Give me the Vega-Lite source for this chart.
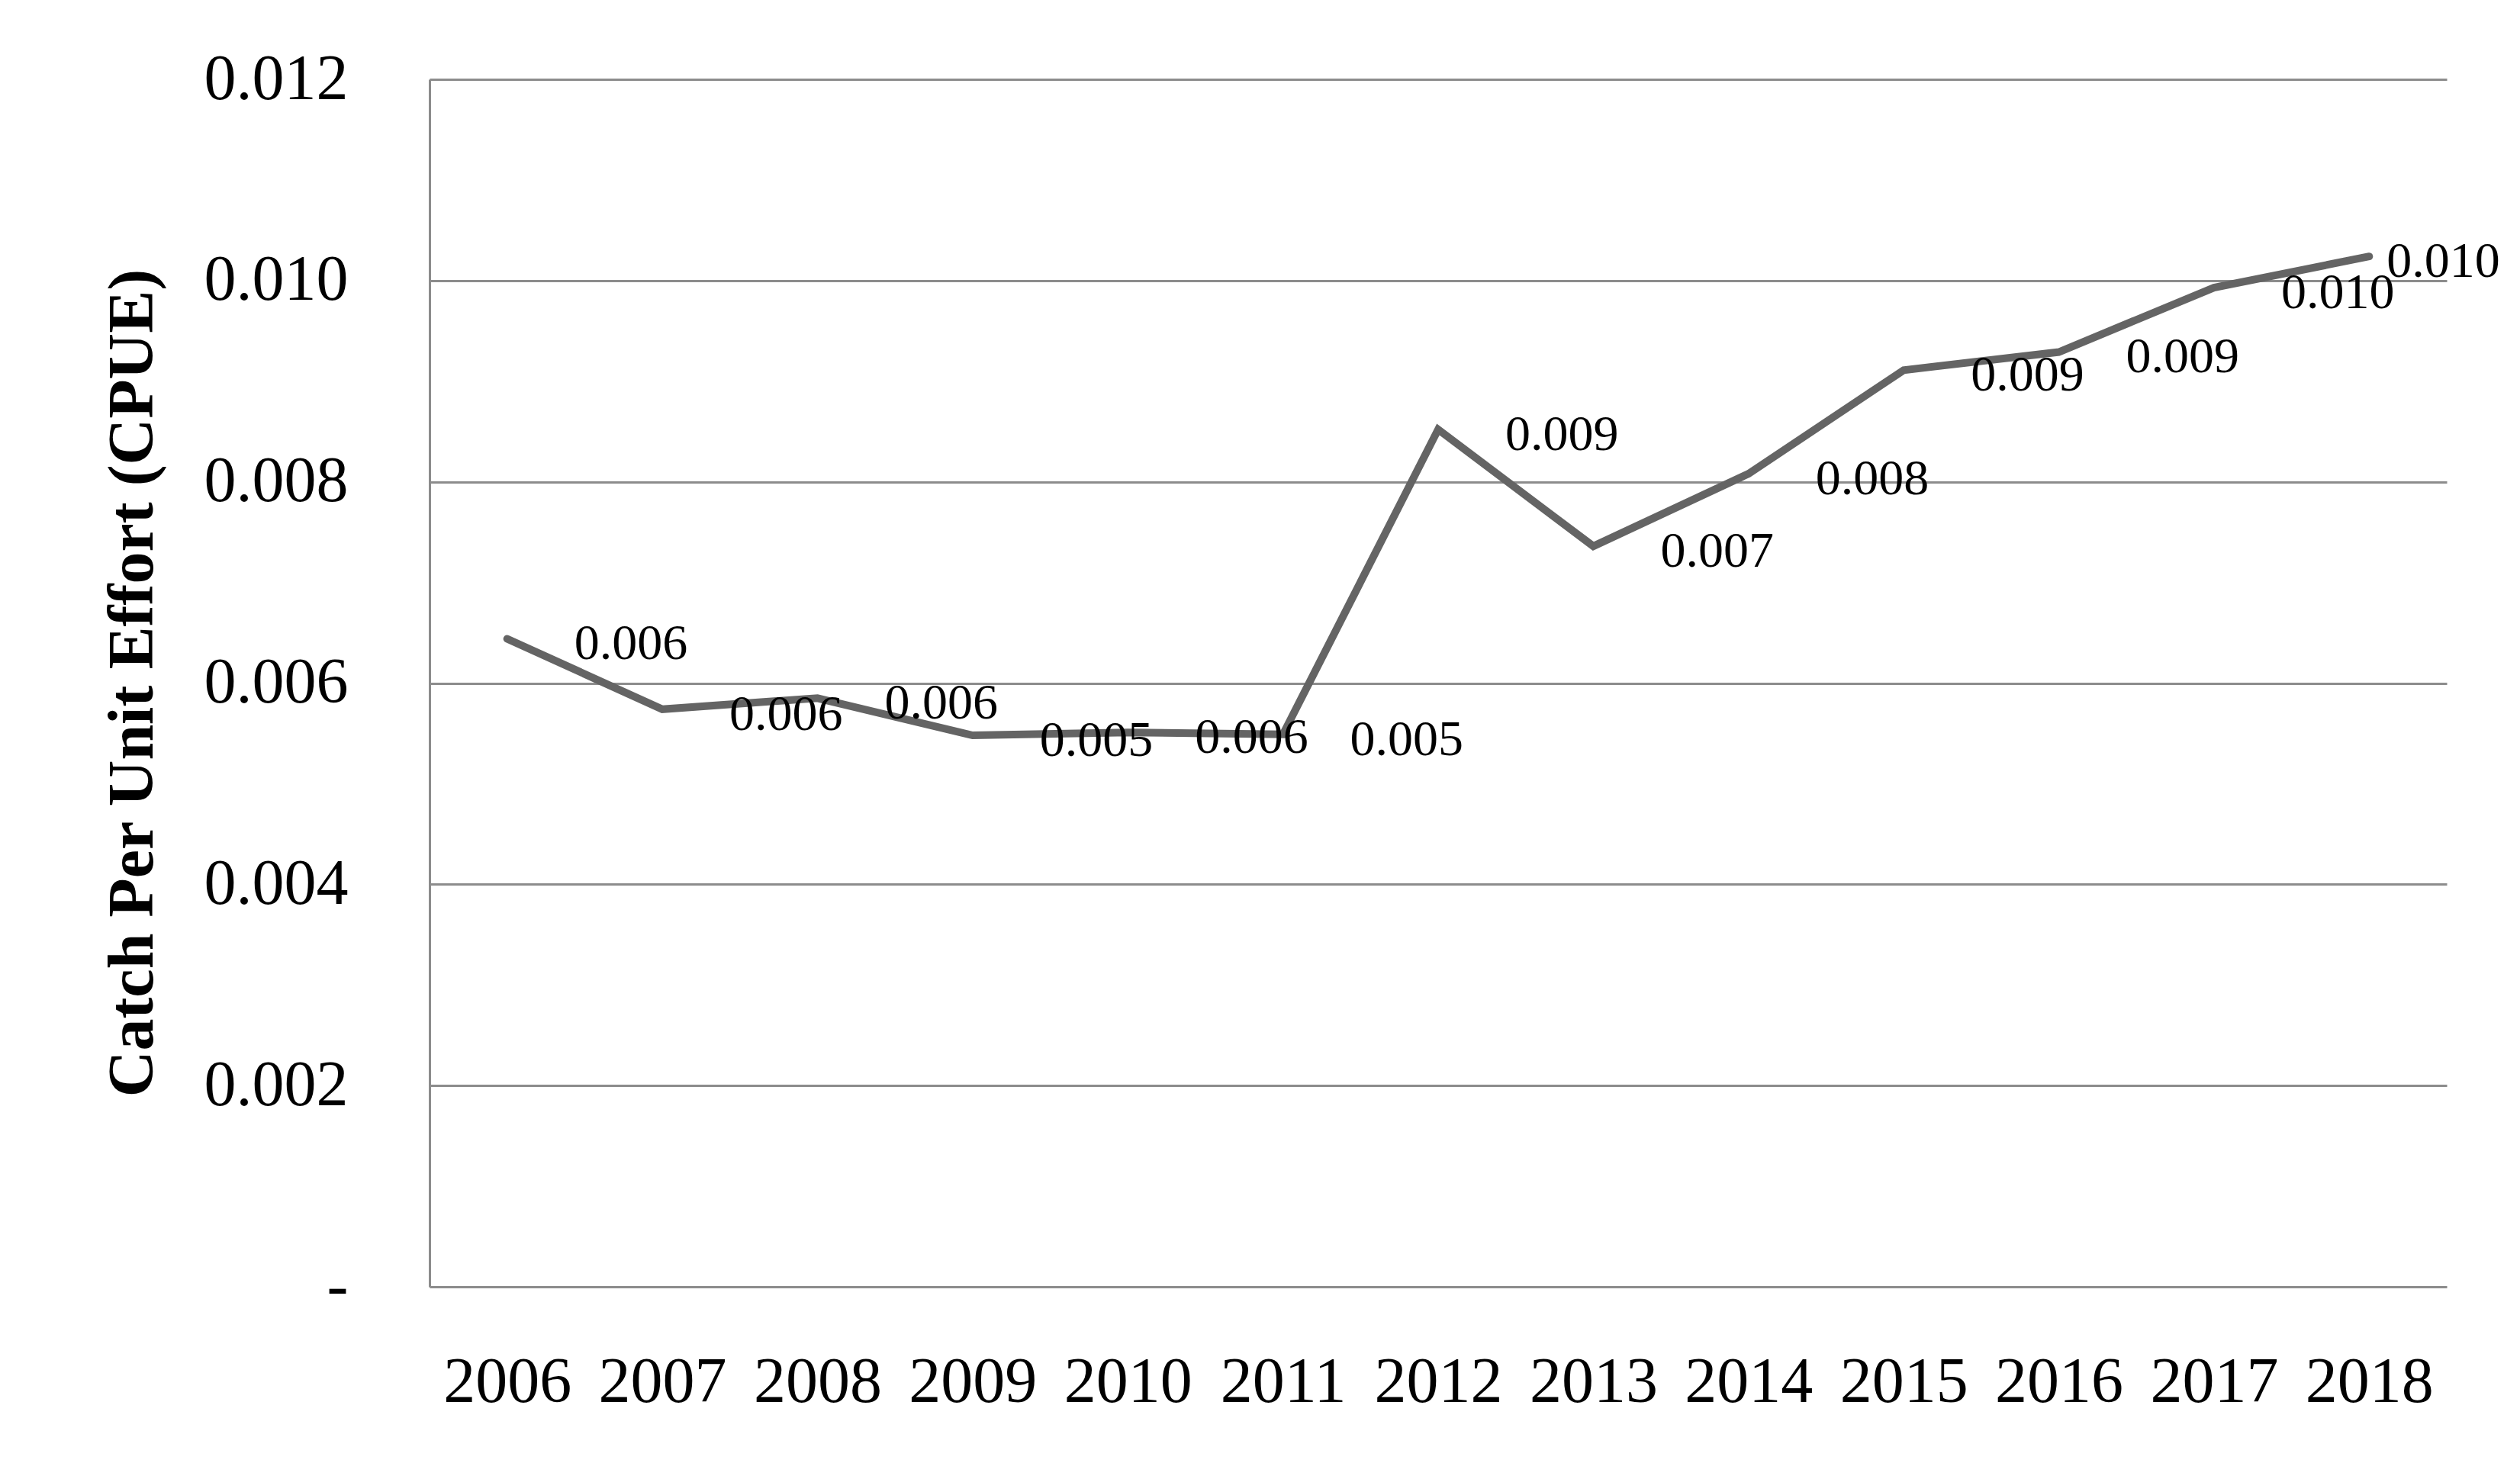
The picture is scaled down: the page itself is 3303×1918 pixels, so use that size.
{
  "$schema": "https://vega.github.io/schema/vega-lite/v6.json",
  "autosize": {"type": "none"},
  "width": 2644,
  "height": 1583,
  "padding": {"left": 563, "top": 104, "right": 96, "bottom": 231},
  "background": "white",
  "config": {
    "view": {"stroke": null},
    "font": "Liberation Serif"
  },
  "data": {
    "values": [
      {"year": 2006, "cpue": 0.00644},
      {"year": 2007, "cpue": 0.00574},
      {"year": 2008, "cpue": 0.00585},
      {"year": 2009, "cpue": 0.00548},
      {"year": 2010, "cpue": 0.00551},
      {"year": 2011, "cpue": 0.00549},
      {"year": 2012, "cpue": 0.00852},
      {"year": 2013, "cpue": 0.00736},
      {"year": 2014, "cpue": 0.00808},
      {"year": 2015, "cpue": 0.00911},
      {"year": 2016, "cpue": 0.00929},
      {"year": 2017, "cpue": 0.00993},
      {"year": 2018, "cpue": 0.01024}
    ]
  },
  "encoding": {
    "x": {
      "field": "year",
      "type": "ordinal",
      "axis": {
        "title": null,
        "domain": false,
        "ticks": false,
        "tickSize": 0,
        "grid": false,
        "labelAngle": 0,
        "labelFont": "Liberation Serif",
        "labelFontSize": 84,
        "labelColor": "#000000",
        "labelBaseline": "alphabetic",
        "labelPadding": 150,
        "labelLimit": 0
      }
    },
    "y": {
      "field": "cpue",
      "type": "quantitative",
      "scale": {"domain": [0, 0.012], "nice": false, "zero": true},
      "axis": {
        "title": "Catch Per Unit Effort (CPUE)",
        "titleFont": "Liberation Serif",
        "titleFontSize": 84,
        "titleFontWeight": "bold",
        "titleColor": "#000000",
        "titleAngle": -90,
        "titleX": -364,
        "titleY": 791,
        "titleAlign": "center",
        "titleBaseline": "alphabetic",
        "titleLimit": 0,
        "values": [0, 0.002, 0.004, 0.006, 0.008, 0.01, 0.012],
        "labelExpr": "datum.value == 0 ? '-' : format(datum.value, '.3f')",
        "labelFont": "Liberation Serif",
        "labelFontSize": 84,
        "labelColor": "#000000",
        "labelPadding": 107,
        "labelLimit": 0,
        "ticks": false,
        "tickSize": 0,
        "domain": true,
        "domainColor": "#8c8c8c",
        "domainWidth": 3,
        "grid": true,
        "gridColor": "#8c8c8c",
        "gridWidth": 3,
        "gridOpacity": 1
      }
    }
  },
  "layer": [
    {
      "mark": {"type": "line", "color": "#646464", "strokeWidth": 10, "strokeCap": "round"}
    },
    {
      "transform": [{"filter": "datum.year != 2018"}],
      "mark": {"type": "text", "align": "left", "baseline": "middle", "dx": 88, "dy": 7, "fontSize": 66, "font": "Liberation Serif", "color": "#000000"},
      "encoding": {"text": {"field": "cpue", "type": "quantitative", "format": ".3f"}}
    },
    {
      "transform": [{"filter": "datum.year == 2018"}],
      "mark": {"type": "text", "align": "left", "baseline": "middle", "dx": 23, "dy": 7, "fontSize": 66, "font": "Liberation Serif", "color": "#000000"},
      "encoding": {"text": {"field": "cpue", "type": "quantitative", "format": ".3f"}}
    }
  ]
}
